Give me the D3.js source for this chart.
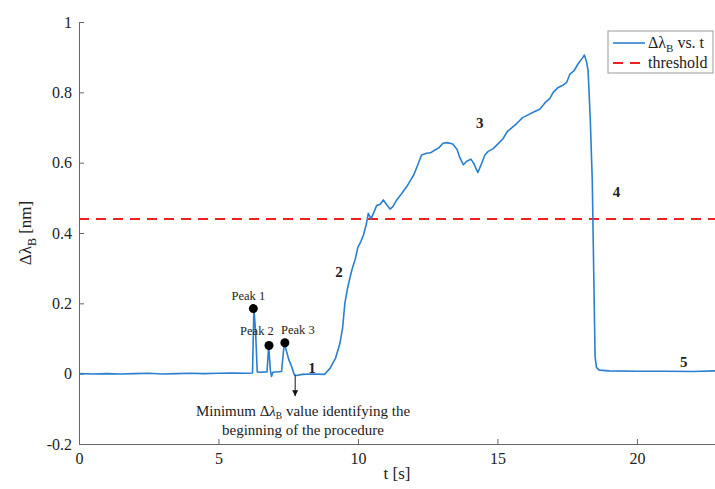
<!DOCTYPE html>
<html>
<head>
<meta charset="utf-8">
<script src="https://cdn.jsdelivr.net/npm/d3@7"></script>
<style>
  body { margin: 0; background: #fff; }
  svg text { font-family: "Liberation Serif", "DejaVu Serif", serif; fill: #222; }
  .domain { stroke: #666; }
  .tick line { stroke: #666; }
</style>
</head>
<body>
<div id="chart"></div>
<script>
// time axis (s) and Bragg wavelength shift (nm)
const tSec = [0, 0.5, 1.0, 1.5, 2.0, 2.5, 3.0, 3.5, 4.0, 4.5, 5.0, 5.5, 6.0, 6.22,
  6.27, 6.33, 6.39, 6.5, 6.74, 6.8, 6.86, 6.9, 6.95, 7.26, 7.36, 7.45, 7.52, 7.6,
  7.72, 7.8, 8.0, 8.4, 8.8, 9.0, 9.2, 9.35, 9.45, 9.53, 9.62, 9.72, 9.8, 9.9, 10.0,
  10.1, 10.2, 10.3, 10.37, 10.47, 10.55, 10.67, 10.8, 10.91, 11.05, 11.15, 11.25,
  11.39, 11.55, 11.75, 11.9, 12.0, 12.15, 12.28, 12.46, 12.6, 12.76, 12.9, 13.05,
  13.2, 13.4, 13.55, 13.65, 13.78, 13.9, 14.05, 14.15, 14.3, 14.42, 14.55, 14.67,
  14.85, 15.0, 15.2, 15.35, 15.5, 15.7, 15.9, 16.1, 16.3, 16.52, 16.7, 16.88, 17.0,
  17.18, 17.35, 17.48, 17.6, 17.75, 17.9, 18.05, 18.12, 18.2, 18.25, 18.33, 18.4,
  18.45, 18.5, 18.55, 18.65, 19.0, 20.0, 21.0, 22.0, 22.8]
const shiftNm = [0, -0.001, 0, -0.001, 0, 0.001, -0.001, 0, 0.001, 0, 0.001, 0.002, 0.001, 0.002,
  0.185, 0.12, 0.005, 0.004, 0.005, 0.078, 0.01, -0.008, 0.004, 0.006, 0.088, 0.06, 0.04, 0.025,
  -0.003, -0.005, -0.002, -0.001, -0.002, 0.015, 0.045, 0.085, 0.13, 0.2, 0.24, 0.275, 0.3, 0.325, 0.36,
  0.375, 0.395, 0.425, 0.456, 0.44, 0.455, 0.478, 0.482, 0.494, 0.478, 0.468, 0.475,
  0.494, 0.51, 0.532, 0.552, 0.565, 0.595, 0.622, 0.627, 0.628, 0.636, 0.642, 0.655,
  0.657, 0.653, 0.638, 0.615, 0.594, 0.604, 0.61, 0.598, 0.572, 0.595, 0.622, 0.632,
  0.64, 0.652, 0.668, 0.688, 0.698, 0.712, 0.728, 0.736, 0.744, 0.752, 0.77, 0.783, 0.8,
  0.814, 0.82, 0.828, 0.852, 0.862, 0.882, 0.898, 0.906, 0.885, 0.862, 0.72, 0.55,
  0.3, 0.05, 0.018, 0.01, 0.008, 0.007, 0.007, 0.006, 0.008]

const thresholdNm = 0.44

const peakNames = ["Peak 1", "Peak 2", "Peak 3"]
const peakT = [6.25, 6.81, 7.38]
const peakV = [0.185, 0.08, 0.088]

const phaseNames = ["1", "2", "3", "4", "5"]
const phaseT = [8.35, 9.32, 14.37, 19.27, 21.68]
const phaseV = [0.017, 0.29, 0.713, 0.516, 0.034]

// arrow marking the minimum before the procedure starts
const arrowT = 7.75
const arrowFromV = -0.004
const arrowToV = -0.064

const xTicks = [0, 5, 10, 15, 20]
const yTicks = [-0.2, 0, 0.2, 0.4, 0.6, 0.8, 1]

var width = 715,
    height = 489,
    margin = {top: 22, right: 0, bottom: 45, left: 79}

var x = d3.scaleLinear()
  .domain([0, 22.8])
  .range([margin.left, width - margin.right])

var y = d3.scaleLinear()
  .domain([-0.2, 1])
  .range([height - margin.bottom, margin.top])

var svg = d3.select("#chart").append("svg")
    .attr("width", width)
    .attr("height", height)

svg.append("defs").append("marker")
    .attr("id", "arrowhead")
    .attr("viewBox", "0 0 10 10")
    .attr("refX", 10)
    .attr("refY", 5)
    .attr("markerWidth", 6)
    .attr("markerHeight", 6)
    .attr("markerUnits", "userSpaceOnUse")
    .attr("orient", "auto")
  .append("path")
    .attr("d", "M0,0L10,5L0,10Z")
    .attr("fill", "#111")

// axes, ticks pointing inward like matlab
svg.append("g")
    .attr("transform", "translate(0," + y.range()[0] + ")")
    .call(d3.axisBottom(x).tickValues(xTicks).tickSize(-5).tickSizeOuter(0).tickPadding(9))
    .call(g => g.selectAll("text").attr("font-size", 16))

svg.append("g")
    .attr("transform", "translate(" + margin.left + ",0)")
    .call(d3.axisLeft(y).tickValues(yTicks).tickFormat(d => String(d)).tickSize(-5).tickSizeOuter(0).tickPadding(7))
    .call(g => g.selectAll("text").attr("font-size", 16))

svg.append("text")
    .attr("x", (x.range()[0] + x.range()[1]) / 2)
    .attr("y", 479)
    .attr("text-anchor", "middle")
    .attr("font-size", 17)
    .text("t [s]")

var ylab = svg.append("text")
    .attr("transform", "translate(31," + (y.range()[0] + y.range()[1]) / 2 + ") rotate(-90)")
    .attr("text-anchor", "middle")
    .attr("font-size", 17)
ylab.append("tspan").text("Δλ")
ylab.append("tspan").attr("font-size", 12).attr("dy", 5).text("B")
ylab.append("tspan").attr("dy", -5).text(" [nm]")

// threshold
svg.append("line")
    .attr("x1", x.range()[0])
    .attr("x2", x.range()[1])
    .attr("y1", y(thresholdNm))
    .attr("y2", y(thresholdNm))
    .attr("stroke", "#ee2020")
    .attr("stroke-width", 2)
    .attr("stroke-dasharray", "10,7")

// signal
var line = d3.line()
  .x((d, i) => x(tSec[i]))
  .y(d => y(d))

svg.append("path")
    .datum(shiftNm)
    .attr("fill", "none")
    .attr("stroke", "#2a7fcf")
    .attr("stroke-width", 1.6)
    .attr("stroke-linejoin", "round")
    .attr("d", line)

// peaks
var labelDx = [-5, -12, 13],
    labelDy = [-9, -11, -9]

svg.selectAll("circle.peak")
    .data(peakNames)
  .enter().append("circle")
    .attr("class", "peak")
    .attr("cx", (d, i) => x(peakT[i]))
    .attr("cy", (d, i) => y(peakV[i]))
    .attr("r", 4.5)
    .attr("fill", "#000")

svg.selectAll("text.peak")
    .data(peakNames)
  .enter().append("text")
    .attr("class", "peak")
    .attr("x", (d, i) => x(peakT[i]) + labelDx[i])
    .attr("y", (d, i) => y(peakV[i]) + labelDy[i])
    .attr("text-anchor", "middle")
    .attr("font-size", 12.5)
    .text(d => d)

// phase numbers
svg.selectAll("text.phase")
    .data(phaseNames)
  .enter().append("text")
    .attr("class", "phase")
    .attr("x", (d, i) => x(phaseT[i]))
    .attr("y", (d, i) => y(phaseV[i]))
    .attr("dy", "0.35em")
    .attr("text-anchor", "middle")
    .attr("font-size", 15)
    .attr("font-weight", "bold")
    .text(d => d)

// arrow + note
svg.append("line")
    .attr("x1", x(arrowT))
    .attr("x2", x(arrowT))
    .attr("y1", y(arrowFromV))
    .attr("y2", y(arrowToV))
    .attr("stroke", "#111")
    .attr("stroke-width", 1)
    .attr("marker-end", "url(#arrowhead)")

var note = svg.append("text")
    .attr("x", 303)
    .attr("y", 416)
    .attr("text-anchor", "middle")
    .attr("font-size", 15)
note.append("tspan").text("Minimum Δ")
note.append("tspan").attr("font-style", "italic").text("λ")
note.append("tspan").attr("font-size", 9.5).attr("dy", 3).text("B")
note.append("tspan").attr("dy", -3).text("  value identifying the")

svg.append("text")
    .attr("x", 303)
    .attr("y", 435)
    .attr("text-anchor", "middle")
    .attr("font-size", 15)
    .text("beginning of the procedure")

// legend
var legend = svg.append("g").attr("transform", "translate(608,31)")

legend.append("rect")
    .attr("width", 105)
    .attr("height", 42)
    .attr("fill", "#fff")
    .attr("stroke", "#999")

legend.append("line")
    .attr("x1", 5).attr("x2", 37).attr("y1", 12).attr("y2", 12)
    .attr("stroke", "#2a7fcf").attr("stroke-width", 1.6)

legend.append("line")
    .attr("x1", 5).attr("x2", 35).attr("y1", 32).attr("y2", 32)
    .attr("stroke", "#ee2020").attr("stroke-width", 2)
    .attr("stroke-dasharray", "10,7")

var l1 = legend.append("text")
    .attr("x", 40).attr("y", 17)
    .attr("font-size", 16)
l1.append("tspan").text("Δλ")
l1.append("tspan").attr("font-size", 11).attr("dy", 4).text("B")
l1.append("tspan").attr("dy", -4).text(" vs. t")

legend.append("text")
    .attr("x", 40).attr("y", 37)
    .attr("font-size", 16)
    .text("threshold")
</script>
</body>
</html>
